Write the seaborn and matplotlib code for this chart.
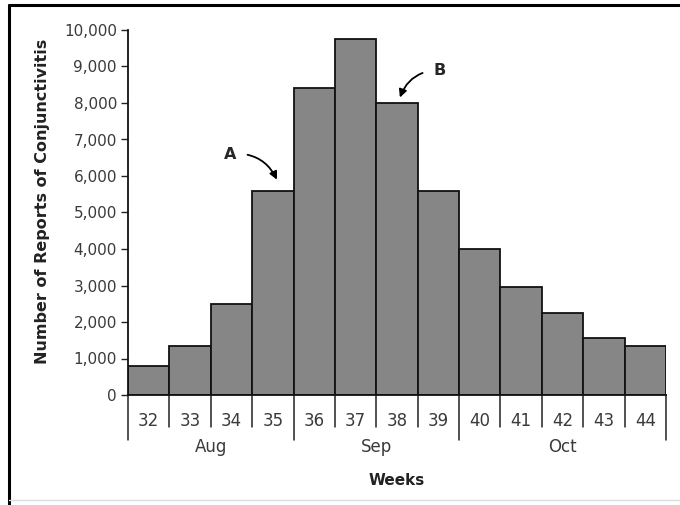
import matplotlib
matplotlib.use("Agg")
import matplotlib.pyplot as plt
import matplotlib.transforms as mtransforms
from matplotlib.lines import Line2D
from matplotlib.ticker import FuncFormatter
import seaborn as sns
import pandas as pd

weeks = ["32", "33", "34", "35", "36", "37", "38", "39", "40", "41", "42", "43", "44"]
reports = [800, 1350, 2500, 5600, 8400, 9750, 8000, 5600, 4000, 2950, 2250, 1550, 1350]
months = ["Aug", "Sep", "Oct"]
month_weeks = [4, 4, 5]

sns.set_style("white")
plt.rcParams["font.family"] = ["DejaVu Sans"]

df = pd.DataFrame({"week": weeks, "reports": reports})

fig = plt.figure(figsize=(6.8, 5.05), dpi=100)
ax = fig.add_axes([128 / 680, 1 - 395 / 505, (666 - 128) / 680, (395 - 30) / 505])

sns.barplot(data=df, x="week", y="reports", color="#868686", width=1.0,
            edgecolor="#111111", linewidth=1.3, saturation=1, ax=ax)

ax.set_xlim(-0.5, len(weeks) - 0.5)
ax.set_ylim(0, 10000)
ax.set_yticks(range(0, 10001, 1000))
ax.yaxis.set_major_formatter(FuncFormatter(lambda v, p: f"{int(v):,}"))
ax.tick_params(axis="y", direction="out", length=5, width=1, color="#222222",
               labelsize=11, labelcolor="#3a3a3a", pad=3, left=True)
ax.tick_params(axis="x", length=0, labelsize=12, labelcolor="#3a3a3a", pad=12)
sns.despine(ax=ax, top=True, right=True)
for s in ["left", "bottom"]:
    ax.spines[s].set_color("#111111")
    ax.spines[s].set_linewidth(1.3)

ax.set_xlabel("")
ax.set_ylabel("Number of Reports of Conjunctivitis", fontsize=11.5, fontweight="bold",
              color="#222222")
ax.yaxis.set_label_coords(-0.145, 0.53)

# separators under the axis
trans = mtransforms.blended_transform_factory(ax.transData, ax.transAxes)
bounds = [0]
for n in month_weeks:
    bounds.append(bounds[-1] + n)
for i in range(len(weeks) + 1):
    low = -0.123 if i in bounds else -0.088
    ax.plot([i - 0.5, i - 0.5], [0, low], color="#222222", lw=1.1,
            transform=trans, clip_on=False)

for m, a, b in zip(months, bounds[:-1], bounds[1:]):
    ax.text((a + b - 1) / 2, -0.142, m, transform=trans, ha="center", va="center",
            fontsize=12, color="#3a3a3a")

ax.text(0.5, -0.233, "Weeks", transform=ax.transAxes, ha="center", va="center",
        fontsize=11, fontweight="bold", color="#222222")

# annotations
ax.annotate("A", xy=(3.1, 5900), xytext=(1.96, 6600), fontsize=11.5, fontweight="bold",
            ha="center", va="center",
            arrowprops=dict(arrowstyle="-|>", color="black", lw=1.3,
                            connectionstyle="arc3,rad=-0.35", shrinkA=6, shrinkB=0))
ax.annotate("B", xy=(6.07, 8150), xytext=(7.04, 8900), fontsize=11.5, fontweight="bold",
            ha="center", va="center",
            arrowprops=dict(arrowstyle="-|>", color="black", lw=1.3,
                            connectionstyle="arc3,rad=0.35", shrinkA=6, shrinkB=0))

# frame of the scanned figure
fig.add_artist(Line2D([9 / 680, 9 / 680], [0, 1 - 5 / 505], color="black", lw=2.2))
fig.add_artist(Line2D([9 / 680, 1], [1 - 5 / 505, 1 - 5 / 505], color="black", lw=2.2))
fig.add_artist(Line2D([9 / 680, 1], [5 / 505, 5 / 505], color="#dddddd", lw=1))

fig.savefig("out.png", dpi=100)
plt.close(fig)
